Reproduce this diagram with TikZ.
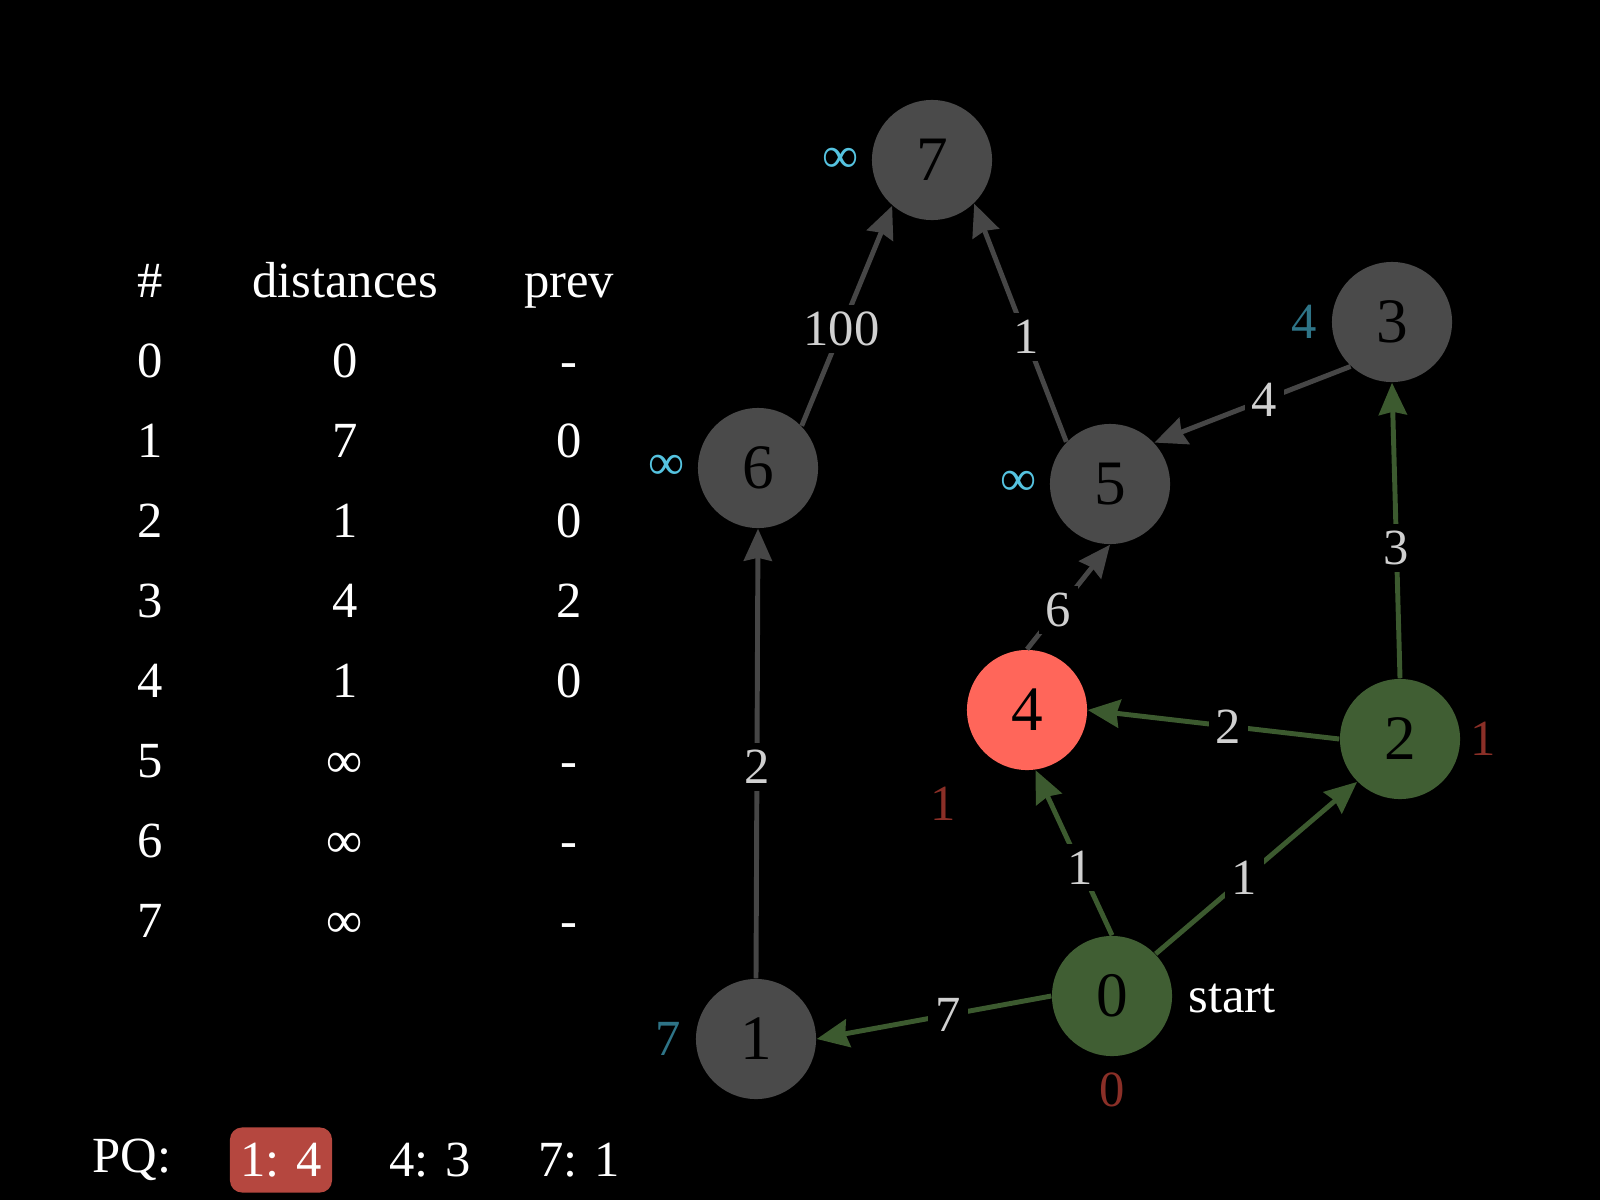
\documentclass[tikz,border=0pt]{standalone}
\usepackage{fontspec}
\setmainfont{Liberation Serif}
\usetikzlibrary{arrows.meta}

\definecolor{gris}{HTML}{4A4A4A}
\definecolor{grisarista}{HTML}{464646}
\definecolor{verde}{HTML}{405E33}
\definecolor{verdearista}{HTML}{3C5A2F}
\definecolor{rojo}{HTML}{FF665A}
\definecolor{rojopq}{HTML}{B5473F}
\definecolor{grispeso}{HTML}{D0D0D0}
\definecolor{cian}{HTML}{55C3E0}
\definecolor{azuloscuro}{HTML}{2E7487}
\definecolor{rojooscuro}{HTML}{8A2F27}

\begin{document}
\begin{tikzpicture}[x=0.01cm, y=-0.01cm,
        nodo/.style={circle, fill=gris, minimum size=1.2cm, inner sep=0pt, font=\fontsize{18}{20}\selectfont},
        arista/.style={draw=grisarista, line width=1.4pt, -{Stealth[length=0.32cm, width=0.28cm, inset=0.03cm]}},
        peso/.style={pos=0.44, fill=black, text=grispeso, inner sep=2pt, font=\fontsize{14.4}{16}\selectfont},
        texto/.style={text=white, font=\fontsize{14.4}{16}\selectfont}
    ]
        % Fondo
        \fill[black] (0,0) rectangle (1600,1200);

        % Tabla
        \node[texto, anchor=base] (hnum) at (150,297) {\#};
        \node[texto, anchor=base] (hdist) at (345,297) {distances};
        \node[texto, anchor=base] (hprev) at (569,297) {prev};
        \foreach \n/\d/\p in {0/0/-, 1/7/0, 2/1/0, 3/4/2, 4/1/0, 5/∞/-, 6/∞/-, 7/∞/-} {
            \node[texto, anchor=base] (num\n) at (150,{377+80*\n}) {\n};
            \node[texto, anchor=base] (dist\n) at (345,{377+80*\n}) {\d};
            \node[texto, anchor=base] (prev\n) at (569,{377+80*\n}) {\p};
        }

        % Cola de prioridad
        \node[texto, anchor=base] (pq) at (132,1172) {PQ:};
        \node[texto, fill=rojopq, rounded corners=0.12cm, minimum width=1.02cm, minimum height=0.65cm, inner sep=0pt] (pq1) at (281,1160) {1: 4};
        \node[texto] (pq2) at (430,1160) {4: 3};
        \node[texto] (pq3) at (579,1160) {7: 1};

        % Nodos
        \node[nodo, fill=verde] (n0) at (1112,996) {0};
        \node[nodo] (n1) at (756,1039) {1};
        \node[nodo, fill=verde] (n2) at (1400,739) {2};
        \node[nodo] (n3) at (1392,322) {3};
        \node[nodo, fill=rojo] (n4) at (1027,710) {4};
        \node[nodo] (n5) at (1110,484) {5};
        \node[nodo] (n6) at (758,468) {6};
        \node[nodo] (n7) at (932,160) {7};

        % Distancias
        \node[texto, text=rojooscuro] (d0) at (1112,1090) {0};
        \node[texto, text=azuloscuro] (d1) at (668,1039) {7};
        \node[texto, text=rojooscuro] (d2) at (1483,739) {1};
        \node[texto, text=azuloscuro] (d3) at (1304,322) {4};
        \node[texto, text=rojooscuro] (d4) at (943,804) {1};
        \node[texto, text=cian] (d5) at (1019,483) {∞};
        \node[texto, text=cian] (d6) at (667,467) {∞};
        \node[texto, text=cian] (d7) at (841,160) {∞};
        \node[texto, anchor=base west] (inicio) at (1176,1012) {start};

        % Aristas
        \draw[arista, draw=verdearista] (n0.180) -- node[peso] {7} (n1.0);
        \draw[arista, draw=verdearista] (n0.90) -- node[peso, pos=0.41] {1} (n4.278);
        \draw[arista, draw=verdearista] (n0.44) -- node[peso] {1} (n2.225);
        \draw[arista, draw=verdearista] (n2.180) -- node[peso] {2} (n4.0);
        \draw[arista, draw=verdearista] (n2.90) -- node[peso] {3} (n3.270);
        \draw[arista] (n1.90) -- node[peso, pos=0.47] {2} (n6.270);
        \draw[arista] (n4.90) -- node[peso, pos=0.38] {6} (n5.270);
        \draw[arista] (n3.227) -- node[peso] {4} (n5.43);
        \draw[arista] (n6.44) -- node[peso] {100} (n7.229);
        \draw[arista] (n5.136) -- node[peso] {1} (n7.314);
    \end{tikzpicture}
\end{document}
